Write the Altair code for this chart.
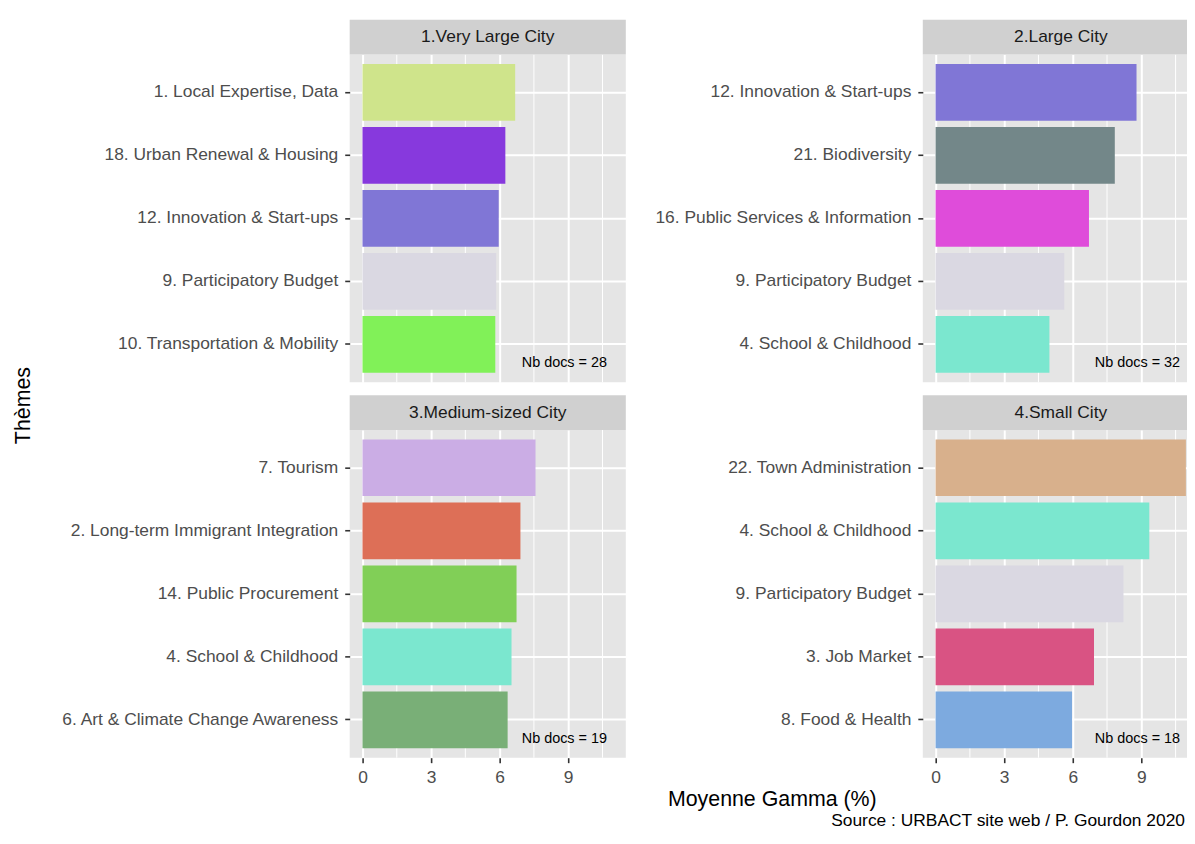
import altair as alt
import pandas as pd

panels = ["1.Very Large City", "2.Large City", "3.Medium-sized City", "4.Small City"]
nb_docs = [28, 32, 19, 18]

themes_1 = ["1. Local Expertise, Data", "18. Urban Renewal & Housing", "12. Innovation & Start-ups",
            "9. Participatory Budget ", "10. Transportation & Mobility"]
values_1 = [6.68, 6.25, 5.96, 5.85, 5.81]

themes_2 = ["12. Innovation & Start-ups", "21. Biodiversity", "16. Public Services & Information",
            "9. Participatory Budget ", "4. School & Childhood"]
values_2 = [8.79, 7.84, 6.71, 5.63, 4.98]

themes_3 = ["7. Tourism", "2. Long-term Immigrant Integration", "14. Public Procurement",
            "4. School & Childhood", "6. Art & Climate Change Awareness"]
values_3 = [7.57, 6.91, 6.74, 6.52, 6.35]

themes_4 = ["22. Town Administration", "4. School & Childhood", "9. Participatory Budget ",
            "3. Job Market", "8. Food & Health"]
values_4 = [10.95, 9.35, 8.22, 6.93, 5.97]

color_themes = ["1. Local Expertise, Data", "18. Urban Renewal & Housing", "12. Innovation & Start-ups",
                "9. Participatory Budget ", "10. Transportation & Mobility", "21. Biodiversity",
                "16. Public Services & Information", "4. School & Childhood", "7. Tourism",
                "2. Long-term Immigrant Integration", "14. Public Procurement",
                "6. Art & Climate Change Awareness", "22. Town Administration", "3. Job Market",
                "8. Food & Health"]
color_values = ["#CFE48B", "#8739DD", "#8076D6", "#DAD8E2", "#81F158", "#738789", "#DF4CDA",
                "#7BE7CF", "#CBADE5", "#DD6F57", "#81CF57", "#79AF77", "#D8B08C", "#D95383",
                "#7DAADF"]

x_ticks = [0, 3, 6, 9]
x_minor = [1.5, 4.5, 7.5, 10.5]

FONT = "Liberation Sans"
LABEL_SIZE = 17.5
TITLE_SIZE = 21.5
W, H, STRIP = 278, 330, 35
XDOM = [-0.56, 11.52]


def make_panel(idx, themes, values, bottom, xtitle=None, ytitle=None, caption=None):
    df = pd.DataFrame({"theme": themes, "value": values})
    xscale = alt.Scale(domain=XDOM, nice=False, zero=False)
    if bottom:
        xaxis_kw = dict(values=x_ticks, grid=True, gridColor="white", gridWidth=2, domain=False,
                        tickColor="#333333", tickWidth=1.6, tickSize=5, labelColor="#4D4D4D",
                        labelFontSize=LABEL_SIZE, labelPadding=6, labelFont=FONT)
    else:
        xaxis_kw = dict(values=x_ticks, grid=True, gridColor="white", gridWidth=2, domain=False,
                        ticks=False, labels=False)
    if xtitle:
        xaxis_kw.update(title=xtitle, titleX=425, titleY=42, titleAlign="center",
                        titleBaseline="middle", titleFontSize=TITLE_SIZE, titleFontWeight="normal",
                        titleColor="black", titleFont=FONT)
    else:
        xaxis_kw.update(title=None)
    yaxis_kw = dict(grid=True, gridColor="white", gridWidth=2, bandPosition=0.5, domain=False,
                    tickColor="#333333", tickWidth=1.6, tickSize=5, labelColor="#4D4D4D",
                    labelFontSize=LABEL_SIZE, labelPadding=7, labelLimit=500, labelFont=FONT)
    if ytitle:
        yaxis_kw.update(title=ytitle, titleX=-328, titleY=353, titleAlign="center",
                        titleBaseline="middle", titleFontSize=TITLE_SIZE, titleFontWeight="normal",
                        titleColor="black", titleAngle=270, titleFont=FONT)
    else:
        yaxis_kw.update(title=None)

    minor = alt.Chart(pd.DataFrame({"v": x_minor})).mark_rule(color="white", strokeWidth=1).encode(
        x=alt.X("v:Q", scale=xscale, axis=alt.Axis(**xaxis_kw))
    )
    bars = alt.Chart(df).mark_bar().encode(
        x=alt.X("value:Q", scale=xscale, axis=alt.Axis(**xaxis_kw)),
        y=alt.Y("theme:N", sort="-x",
                scale=alt.Scale(paddingInner=0.1, paddingOuter=0.15),
                axis=alt.Axis(**yaxis_kw)),
        color=alt.Color("theme:N", scale=alt.Scale(domain=color_themes, range=color_values),
                        legend=None),
    )
    lab = pd.DataFrame({"t": [panels[idx]], "n": [f"Nb docs = {nb_docs[idx]}"]})
    strip = alt.Chart(lab).mark_rect(color="#D0D0D0").encode(
        x=alt.value(0), x2=alt.value(W), y=alt.value(-STRIP), y2=alt.value(0)
    )
    strip_text = alt.Chart(lab).mark_text(fontSize=LABEL_SIZE, color="#1A1A1A", baseline="middle",
                                          align="center", font=FONT).encode(
        x=alt.value(W / 2), y=alt.value(-STRIP / 2), text="t:N"
    )
    nb = alt.Chart(lab).mark_text(fontSize=14.5, color="black", baseline="middle", align="right",
                                  font=FONT).encode(
        x=alt.value(W - 19), y=alt.value(H - 19), text="n:N"
    )
    layers = [minor, bars, nb, strip, strip_text]
    if caption:
        cap = alt.Chart(pd.DataFrame({"c": [caption]})).mark_text(
            fontSize=LABEL_SIZE, color="black", baseline="middle", align="right", font=FONT
        ).encode(x=alt.value(W - 14), y=alt.value(394), text="c:N")
        layers.append(cap)
    return alt.layer(*layers).properties(width=W, height=H)


p1 = make_panel(0, themes_1, values_1, bottom=False, ytitle="Thèmes")
p2 = make_panel(1, themes_2, values_2, bottom=False)
p3 = make_panel(2, themes_3, values_3, bottom=True, xtitle="Moyenne Gamma (%)")
p4 = make_panel(3, themes_4, values_4, bottom=True,
                caption="Source : URBACT site web / P. Gourdon 2020")

chart = alt.concat(p1, p2, p3, p4, columns=2, spacing={"row": 48, "column": 299},
                   bounds="flush").properties(
    padding={"left": 5, "top": 9, "right": -12, "bottom": -3}
).configure_view(fill="#E5E5E5", stroke=None).configure_axis(
    labelFont=FONT, titleFont=FONT
)

chart.save("out.html", embed_options={"renderer": "svg", "actions": False})
